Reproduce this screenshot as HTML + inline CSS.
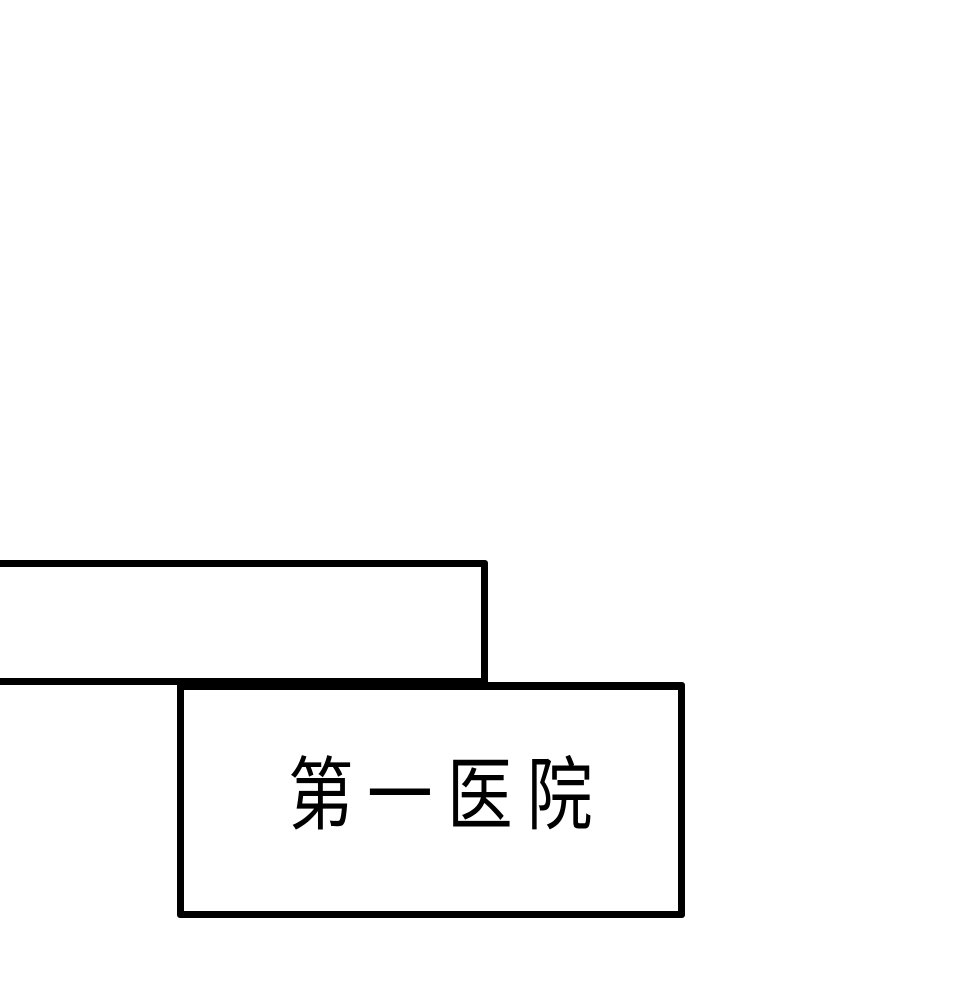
<!DOCTYPE html>
<html><head><meta charset="utf-8"><style>
html,body{margin:0;padding:0;background:#fff;width:970px;height:999px;overflow:hidden;position:relative}
.b{position:absolute;box-sizing:border-box;border:7px solid #000;border-radius:3px}
.c{position:absolute;top:756px;font-family:"Liberation Sans","Noto Sans CJK SC",sans-serif;font-size:80px;line-height:80px;color:#000;transform:scaleX(0.82);transform-origin:0 0}
</style></head><body>
<div class="b" style="left:-10px;top:560px;width:498px;height:125px"></div>
<div class="b" style="left:177px;top:682px;width:508px;height:236px;border-top-width:8px"></div>
<span class="c" style="left:288px">第</span>
<span class="c" style="left:367px">一</span>
<span class="c" style="left:447px">医</span>
<span class="c" style="left:527px">院</span>
</body></html>
